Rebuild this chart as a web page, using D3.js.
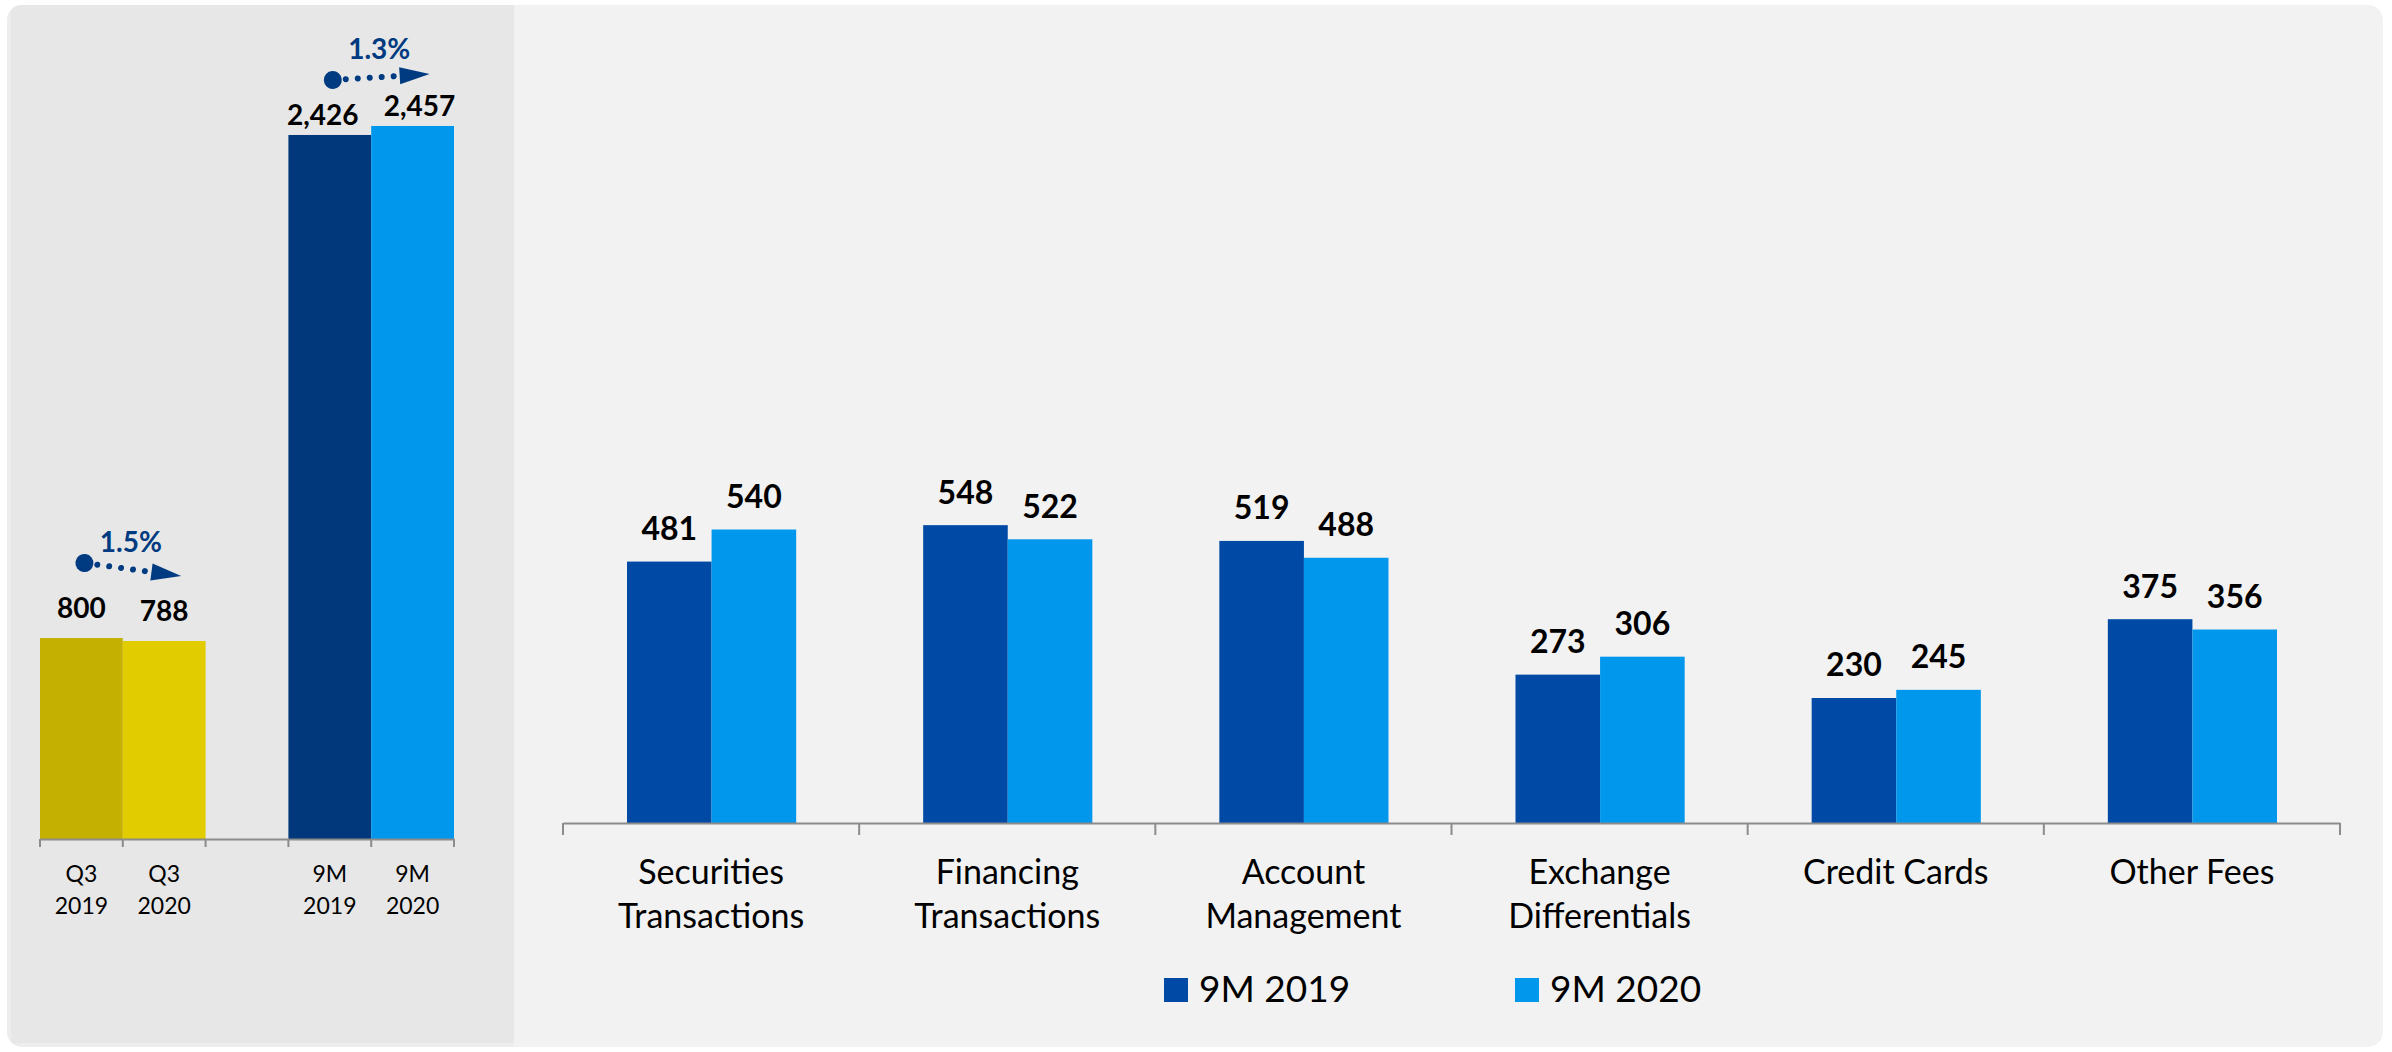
<html>
<head>
<script src="https://d3js.org/d3.v7.min.js"></script>
<style>
  body { margin: 0; background: #ffffff; }
  text { font-family: Lato, "Open Sans", sans-serif; }
</style>
</head>
<body>
<svg width="2392" height="1052"></svg>
<script>
// left panel: quarter and nine-month totals
const leftCats = ["Q3 2019", "Q3 2020", "gap", "9M 2019", "9M 2020"];
const leftValues = [800, 788, null, 2426, 2457];
const growth = [
  {from: "Q3 2019", to: "Q3 2020", pct: "1.5%"},
  {from: "9M 2019", to: "9M 2020", pct: "1.3%"}
];

// right panel: breakdown by fee type
const categories = ["Securities Transactions", "Financing Transactions", "Account Management",
                    "Exchange Differentials", "Credit Cards", "Other Fees"];
const catLines = [["Securities", "Transactions"], ["Financing", "Transactions"], ["Account", "Management"],
                  ["Exchange", "Differentials"], ["Credit Cards"], ["Other Fees"]];
const seriesNames = ["9M 2019", "9M 2020"];
const values2019 = [481, 548, 519, 273, 230, 375];
const values2020 = [540, 522, 488, 306, 245, 356];

const leftColor = {"Q3 2019": "#c4b000", "Q3 2020": "#e1cc00", "9M 2019": "#00387b", "9M 2020": "#0097ed"};
const seriesColor = ["#004aa6", "#0097ed"];

const svg = d3.select("svg");

// card background
const defs = svg.append("defs");
defs.append("clipPath").attr("id", "card")
  .append("rect").attr("x", 7).attr("y", 5).attr("width", 2376).attr("height", 1042).attr("rx", 15);

const bg = svg.append("g").attr("clip-path", "url(#card)");
bg.append("rect").attr("x", 7).attr("y", 5).attr("width", 2376).attr("height", 1042).attr("fill", "#f2f2f2");
bg.append("rect").attr("x", 7).attr("y", 5).attr("width", 507).attr("height", 1042).attr("fill", "#ededed");
bg.append("rect").attr("x", 11).attr("y", 5).attr("width", 503).attr("height", 1038).attr("fill", "#e7e7e7");

// ---------- left chart ----------
const xL = d3.scaleBand().domain(leftCats).range([40, 454]).padding(0);
const yQ = d3.scaleLinear().domain([0, 1000]).range([839, 587.75]);
const y9 = d3.scaleLinear().domain([0, 2500]).range([839, 113.5]);
const yFor = c => c.startsWith("Q3") ? yQ : y9;

const leftData = leftCats.map((c, i) => ({cat: c, value: leftValues[i]})).filter(d => d.value != null);

const left = svg.append("g");
left.selectAll("rect.bar")
  .data(leftData)
  .enter()
  .append("rect")
  .attr("class", "bar")
  .attr("x", d => xL(d.cat))
  .attr("width", xL.bandwidth())
  .attr("y", d => yFor(d.cat)(d.value))
  .attr("height", d => 839 - yFor(d.cat)(d.value))
  .attr("fill", d => leftColor[d.cat]);

left.selectAll("text.val")
  .data(leftData)
  .enter()
  .append("text")
  .attr("class", "val")
  .attr("x", d => xL(d.cat) + xL.bandwidth() / 2 + (d.cat === "9M 2019" ? -7 : d.cat === "9M 2020" ? 7 : 0))
  .attr("y", d => yFor(d.cat)(d.value) - (d.cat.startsWith("Q3") ? 20 : 10))
  .attr("text-anchor", "middle")
  .attr("font-size", 28)
  .attr("font-weight", 700)
  .attr("fill", "#000")
  .text(d => d3.format(",")(d.value));

// left axis
const axisL = left.append("g").attr("transform", "translate(0,839)")
  .call(d3.axisBottom(xL).tickSize(0).tickFormat(""));
axisL.select(".domain").attr("stroke", "#8c8c8c").attr("stroke-width", 2);
const edgesL = leftCats.map(c => xL(c)).concat([xL.range()[1]]);
left.selectAll("line.tk")
  .data(edgesL)
  .enter()
  .append("line")
  .attr("x1", d => d).attr("x2", d => d)
  .attr("y1", 839).attr("y2", 847)
  .attr("stroke", "#8c8c8c").attr("stroke-width", 2);

leftCats.filter(c => c !== "gap").forEach(c => {
  const t = left.append("text")
    .attr("x", xL(c) + xL.bandwidth() / 2)
    .attr("y", 882)
    .attr("text-anchor", "middle")
    .attr("font-size", 23)
    .attr("fill", "#000");
  c.split(" ").forEach((w, i) => {
    t.append("tspan").attr("x", xL(c) + xL.bandwidth() / 2).attr("dy", i ? 32 : 0).text(w);
  });
});

// growth arrows
const arrowOffsets = {"Q3 2019": [75, 65], "9M 2019": [55, 52]};
const navy = "#003a80";
growth.forEach(g => {
  const vFrom = leftValues[leftCats.indexOf(g.from)];
  const vTo = leftValues[leftCats.indexOf(g.to)];
  const sc = yFor(g.from);
  const off = arrowOffsets[g.from];
  const x1 = xL(g.from) + xL.bandwidth() / 2 + 3;
  const y1 = sc(vFrom) - off[0];
  const x2 = xL(g.to) + xL.bandwidth() / 2 + 17;
  const y2 = sc(vTo) - off[1];
  const ang = Math.atan2(y2 - y1, x2 - x1);
  const len = Math.hypot(x2 - x1, y2 - y1);
  const a = left.append("g").attr("transform", `translate(${x1},${y1}) rotate(${ang * 180 / Math.PI})`);
  a.append("circle").attr("cx", 0).attr("cy", 0).attr("r", 9).attr("fill", navy);
  a.append("line")
    .attr("x1", 13).attr("x2", len - 30)
    .attr("y1", 0).attr("y2", 0)
    .attr("stroke", navy).attr("stroke-width", 6)
    .attr("stroke-linecap", "round").attr("stroke-dasharray", "0 12");
  a.append("path")
    .attr("d", `M${len - 30},-8.5 L${len},0 L${len - 30},8.5 Z`)
    .attr("fill", navy);
  left.append("text")
    .attr("x", (x1 + x2) / 2 - 2)
    .attr("y", (y1 + y2) / 2 - 18)
    .attr("text-anchor", "middle")
    .attr("font-size", 28)
    .attr("font-weight", 700)
    .attr("fill", navy)
    .text(g.pct);
});

// ---------- right chart ----------
const x0 = d3.scaleBand().domain(categories).range([563, 2340]).padding(0);
const x1 = d3.scaleBand().domain(seriesNames).range([64, x0.bandwidth() - 63]).padding(0);
const yR = d3.scaleLinear().domain([0, 600]).range([823, 496.9]);

const rightData = categories.map((c, i) => ({
  cat: c,
  vals: [{s: seriesNames[0], v: values2019[i], k: 0}, {s: seriesNames[1], v: values2020[i], k: 1}]
}));

const right = svg.append("g");
const groups = right.selectAll("g.grp")
  .data(rightData)
  .enter()
  .append("g")
  .attr("class", "grp")
  .attr("transform", d => `translate(${x0(d.cat)},0)`);

groups.selectAll("rect")
  .data(d => d.vals)
  .enter()
  .append("rect")
  .attr("x", d => x1(d.s))
  .attr("width", x1.bandwidth())
  .attr("y", d => yR(d.v))
  .attr("height", d => 823 - yR(d.v))
  .attr("fill", d => seriesColor[d.k]);

groups.selectAll("text")
  .data(d => d.vals)
  .enter()
  .append("text")
  .attr("x", d => x1(d.s) + x1.bandwidth() / 2)
  .attr("y", d => yR(d.v) - 21.5)
  .attr("text-anchor", "middle")
  .attr("font-size", 32)
  .attr("font-weight", 700)
  .attr("fill", "#000")
  .text(d => d.v);

const axisR = right.append("g").attr("transform", "translate(0,823)")
  .call(d3.axisBottom(x0).tickSize(0).tickFormat(""));
axisR.select(".domain").attr("stroke", "#8c8c8c").attr("stroke-width", 2);
const edgesR = categories.map(c => x0(c)).concat([x0.range()[1]]);
right.selectAll("line.tk")
  .data(edgesR)
  .enter()
  .append("line")
  .attr("x1", d => d).attr("x2", d => d)
  .attr("y1", 823).attr("y2", 835)
  .attr("stroke", "#8c8c8c").attr("stroke-width", 2);

categories.forEach((c, i) => {
  const cx = x0(c) + x0.bandwidth() / 2;
  const t = right.append("text")
    .attr("x", cx).attr("y", 884)
    .attr("text-anchor", "middle")
    .attr("font-size", 34)
    .attr("fill", "#000");
  catLines[i].forEach((w, j) => {
    t.append("tspan").attr("x", cx).attr("dy", j ? 44 : 0).text(w);
  });
});

// legend
const legend = svg.append("g");
seriesNames.forEach((s, i) => {
  const lx = 1164 + i * 351;
  legend.append("rect").attr("x", lx).attr("y", 978).attr("width", 24).attr("height", 24).attr("fill", seriesColor[i]);
  legend.append("text").attr("x", lx + 35).attr("y", 1002)
    .attr("font-size", 37).attr("fill", "#000").text(s);
});
</script>
</body>
</html>
